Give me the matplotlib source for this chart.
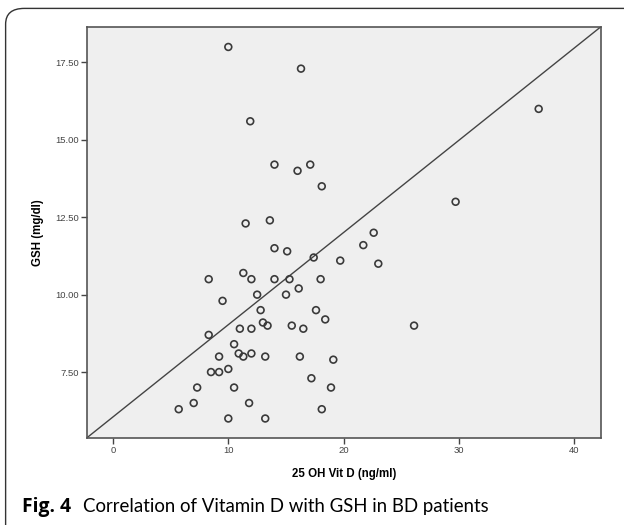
import numpy as np
import matplotlib
matplotlib.use('Agg')
import matplotlib.pyplot as plt
from matplotlib.patches import FancyBboxPatch

# 25 OH Vit D (ng/ml) vs GSH (mg/dl)
vit_d = [10.0, 16.3, 36.9, 11.9, 14.0, 17.1, 16.0, 18.1, 29.7, 11.5,
         13.6, 22.6, 21.7, 14.0, 15.1, 17.4, 19.7, 23.0, 8.3, 11.3,
         12.0, 14.0, 15.3, 18.0, 16.1, 12.5, 15.0, 9.5, 12.8, 17.6,
         18.4, 13.0, 13.4, 11.0, 12.0, 15.5, 16.5, 26.1, 8.3, 10.5,
         10.9, 11.3, 12.0, 9.2, 13.2, 16.2, 19.1, 8.5, 9.2, 10.0,
         7.3, 10.5, 17.2, 18.9, 7.0, 11.8, 5.7, 18.1, 10.0, 13.2]
gsh = [18.0, 17.3, 16.0, 15.6, 14.2, 14.2, 14.0, 13.5, 13.0, 12.3,
       12.4, 12.0, 11.6, 11.5, 11.4, 11.2, 11.1, 11.0, 10.5, 10.7,
       10.5, 10.5, 10.5, 10.5, 10.2, 10.0, 10.0, 9.8, 9.5, 9.5,
       9.2, 9.1, 9.0, 8.9, 8.9, 9.0, 8.9, 9.0, 8.7, 8.4,
       8.1, 8.0, 8.1, 8.0, 8.0, 8.0, 7.9, 7.5, 7.5, 7.6,
       7.0, 7.0, 7.3, 7.0, 6.5, 6.5, 6.3, 6.3, 6.0, 6.0]

# fitted reference line
fit_a = 6.05
fit_b = 0.298

x_ticks = [0, 10, 20, 30, 40]
y_ticks = [7.5, 10.0, 12.5, 15.0, 17.5]
xlim = (-2.25, 42.3)
ylim = (5.37, 18.63)

plt.rcParams['font.family'] = ['Liberation Sans', 'DejaVu Sans']

fig = plt.figure(figsize=(6.24, 5.25), dpi=100)

# rounded frame around the figure
frame = FancyBboxPatch((0.009, -0.05), 1.2, 1.034, boxstyle='round,pad=0,rounding_size=0.03',
                       transform=fig.transFigure, fill=False, edgecolor='#333333', lw=1.0)
fig.patches.append(frame)

ax = fig.add_axes([0.1394, 0.1657, 0.8237, 0.782])
ax.set_facecolor('#efefef')
ax.scatter(vit_d, gsh, s=24, facecolors='none', edgecolors='#3a3a3a', linewidths=1.2, zorder=3)

xx = np.array(xlim)
ax.plot(xx, fit_a + fit_b * xx, color='#444444', lw=1.0, zorder=2)

ax.set_xlim(xlim)
ax.set_ylim(ylim)
ax.set_xticks(x_ticks)
ax.set_yticks(y_ticks)
ax.set_yticklabels(['%.2f' % v for v in y_ticks])
ax.tick_params(labelsize=6.8, colors='#444444', length=4, width=1.0, pad=2)
for s in ax.spines.values():
    s.set_color('#555555')
    s.set_linewidth(1.2)

ax.set_xlabel('25 OH Vit D (ng/ml)', fontsize=8.3, fontweight='bold', labelpad=9)
ax.set_ylabel('GSH (mg/dl)', fontsize=8.3, fontweight='bold', labelpad=8)

fig.text(0.035, 0.025, 'Fig. 4', fontsize=13.9, fontweight='bold', va='baseline',
         family=['Open Sans', 'DejaVu Sans'])
fig.text(0.133, 0.025, 'Correlation of Vitamin D with GSH in BD patients', fontsize=13.4,
         va='baseline', family=['Lato', 'DejaVu Sans'])

fig.savefig('out.png', dpi=100)
